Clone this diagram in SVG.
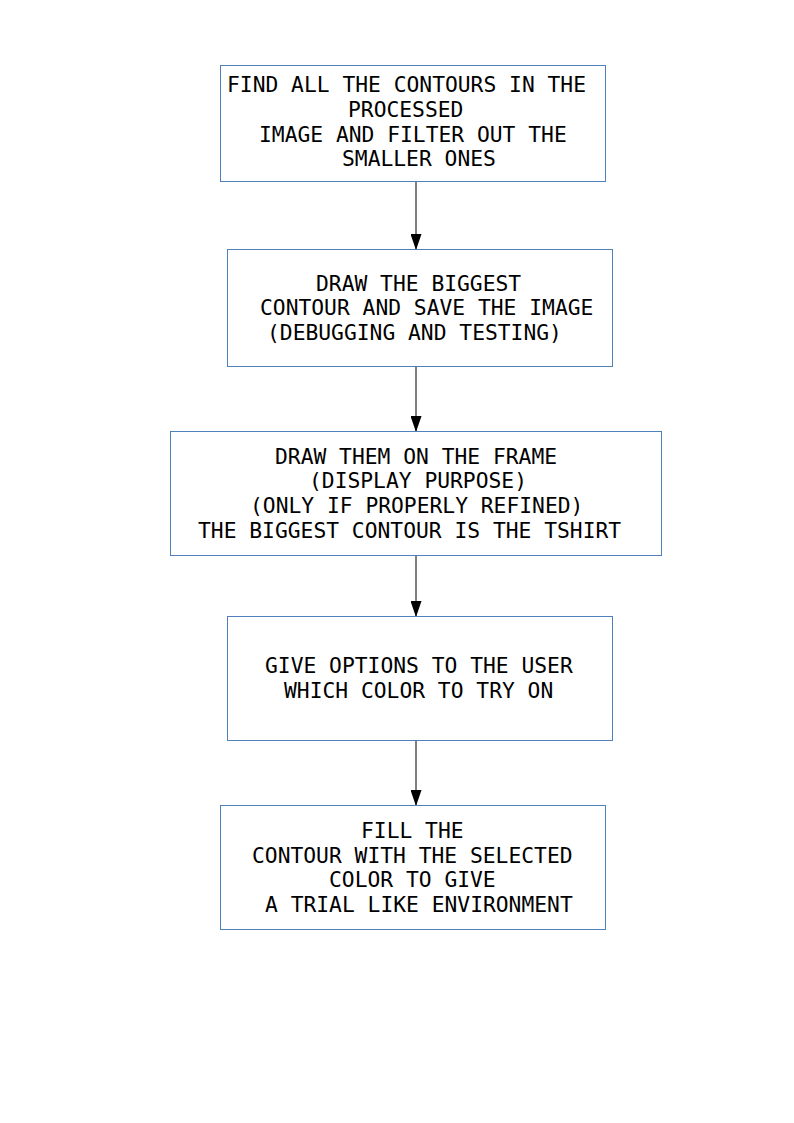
<svg xmlns="http://www.w3.org/2000/svg" width="794" height="1123" viewBox="0 0 794 1123">
<defs>
<style>
.box{fill:#fff;stroke:#4f81bd;stroke-width:1}
.t{font-family:"DejaVu Sans Mono",monospace;font-size:21.3px;fill:#000}
.c{stroke:#000;stroke-width:1;fill:none;marker-end:url(#ah)}
</style>
<marker id="ah" viewBox="0 0 16 11" refX="16" refY="5.5" markerWidth="16" markerHeight="11" markerUnits="userSpaceOnUse" orient="auto">
<path d="M0,0 L16,5.5 L0,11 Z" fill="#000"/>
</marker>
</defs>
<rect width="794" height="1123" fill="#fff"/>
<g id="connectors">
<line class="c" x1="416" y1="181" x2="416" y2="250"/>
<line class="c" x1="416" y1="367" x2="416" y2="432"/>
<line class="c" x1="416" y1="553" x2="416" y2="617"/>
<line class="c" x1="416" y1="739" x2="416" y2="806"/>
</g>
<g id="n1">
<rect class="box" x="220.5" y="65.5" width="385" height="116"/>
<text class="t" x="227" y="92">FIND ALL THE CONTOURS IN THE</text>
<text class="t" x="348" y="117">PROCESSED</text>
<text class="t" x="259" y="142">IMAGE AND FILTER OUT THE</text>
<text class="t" x="342" y="166">SMALLER ONES</text>
</g>
<g id="n2">
<rect class="box" x="227.5" y="249.5" width="385" height="117"/>
<text class="t" x="316" y="291">DRAW THE BIGGEST</text>
<text class="t" x="260" y="315">CONTOUR AND SAVE THE IMAGE</text>
<text class="t" x="267" y="340">(DEBUGGING AND TESTING)</text>
</g>
<g id="n3">
<rect class="box" x="170.5" y="431.5" width="491" height="124"/>
<text class="t" x="275" y="464">DRAW THEM ON THE FRAME</text>
<text class="t" x="309" y="488">(DISPLAY PURPOSE)</text>
<text class="t" x="250" y="513">(ONLY IF PROPERLY REFINED)</text>
<text class="t" x="198" y="538">THE BIGGEST CONTOUR IS THE TSHIRT</text>
</g>
<g id="n4">
<rect class="box" x="227.5" y="616.5" width="385" height="124"/>
<text class="t" x="265" y="673">GIVE OPTIONS TO THE USER</text>
<text class="t" x="284" y="698">WHICH COLOR TO TRY ON</text>
</g>
<g id="n5">
<rect class="box" x="220.5" y="805.5" width="385" height="124"/>
<text class="t" x="361" y="838">FILL THE</text>
<text class="t" x="252" y="863">CONTOUR WITH THE SELECTED</text>
<text class="t" x="329" y="887">COLOR TO GIVE</text>
<text class="t" x="265" y="912">A TRIAL LIKE ENVIRONMENT</text>
</g>
</svg>
